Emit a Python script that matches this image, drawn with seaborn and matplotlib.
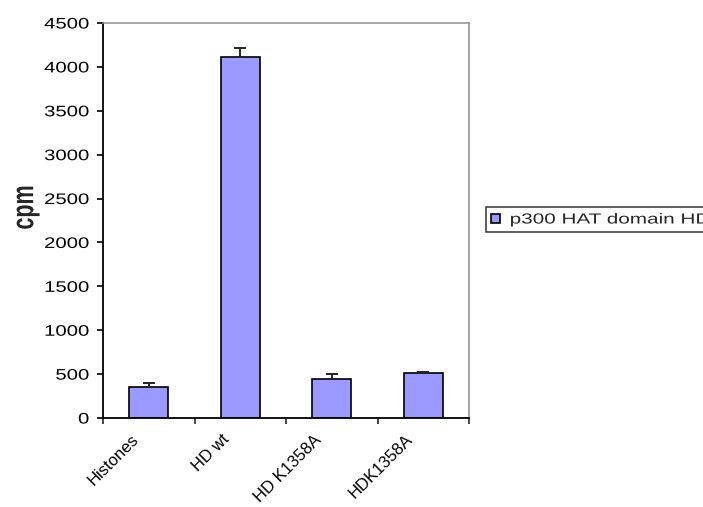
import numpy as np
import pandas as pd
import matplotlib.pyplot as plt
import seaborn as sns
from matplotlib.patheffects import AbstractPathEffect
from matplotlib.transforms import Affine2D

samples = ['Histones', 'HD wt', 'HD K1358A', 'HDK1358A']
cpm = [356, 4114, 447, 508]
cpm_err = [48, 98, 49, 14]
series_name = 'p300 HAT domain HD'


class HStretch(AbstractPathEffect):
    # widen text glyphs sideways, like the stretched excel picture
    def __init__(self, sx=1.4, anchor='left'):
        super().__init__()
        self.sx = sx
        self.anchor = anchor

    def draw_path(self, renderer, gc, tpath, affine, rgbFace=None):
        bb = tpath.get_extents(affine)
        x0 = {'left': bb.x0, 'right': bb.x1, 'center': (bb.x0 + bb.x1) / 2}[self.anchor]
        tr = affine + Affine2D().translate(-x0, 0).scale(self.sx, 1).translate(x0, 0)
        renderer.draw_path(gc, tpath, tr, rgbFace)


df = pd.DataFrame({'sample': samples, 'cpm': cpm, 'series': series_name})

sns.set_style('white')
plt.rcParams['font.family'] = ['Liberation Sans', 'DejaVu Sans']

fig = plt.figure(figsize=(7.03, 5.07), dpi=100)
ax = fig.add_axes([103 / 703, 89 / 507, 366 / 703, 395 / 507])

sns.barplot(data=df, x='sample', y='cpm', hue='series', palette=['#9999ff'],
            width=0.426, edgecolor='black', linewidth=1.2, saturation=1, ax=ax)
ax.errorbar(np.arange(len(samples)), cpm, yerr=[np.zeros(len(cpm)), cpm_err],
            fmt='none', ecolor='#222222', elinewidth=1.4, capsize=4.5, capthick=1.4)

ax.set_xlim(-0.5, len(samples) - 0.5)
ax.set_ylim(0, 4500)
ax.set_yticks(range(0, 4501, 500))
ax.tick_params(axis='y', labelsize=11, length=4.5, width=1.2, pad=5.5,
               direction='out', left=True, colors='black')
for t in ax.get_yticklabels():
    t.set_path_effects([HStretch(1.33, 'right')])

# labels sit a little left of the category centre, excel style
ax.set_xticks(np.arange(len(samples)) - 0.2)
ax.set_xticklabels(samples, rotation=45, ha='right', va='top',
                   rotation_mode='anchor', fontsize=12)
ax.tick_params(axis='x', length=0, pad=10, colors='black')
ax.set_xticks(np.arange(len(samples) + 1) - 0.5, minor=True)
ax.tick_params(axis='x', which='minor', length=4.5, width=1.2, bottom=True,
               direction='out')

ax.set_xlabel('')
ax.set_ylabel('cpm', fontsize=15.5, fontweight='bold', va='center')
ax.yaxis.set_label_coords(-0.210, 0.533)
ax.yaxis.label.set_path_effects([HStretch(1.43, 'center')])

for s in ['left', 'bottom']:
    ax.spines[s].set_color('black')
    ax.spines[s].set_linewidth(1.3)
for s in ['top', 'right']:
    ax.spines[s].set_color('#909090')
    ax.spines[s].set_linewidth(1.1)

leg = ax.legend(loc='center left', bbox_to_anchor=(486 / 703, 0.567, 0.5, 0.0),
                bbox_transform=fig.transFigure, mode='expand', borderaxespad=0,
                fontsize=10.5, frameon=True, fancybox=False, edgecolor='black',
                handlelength=0.6, handleheight=0.6, handletextpad=0.7,
                borderpad=0.35)
leg.get_frame().set_linewidth(1.1)
for t in leg.get_texts():
    t.set_path_effects([HStretch(1.42, 'left')])

plt.savefig('out.png', dpi=100)
